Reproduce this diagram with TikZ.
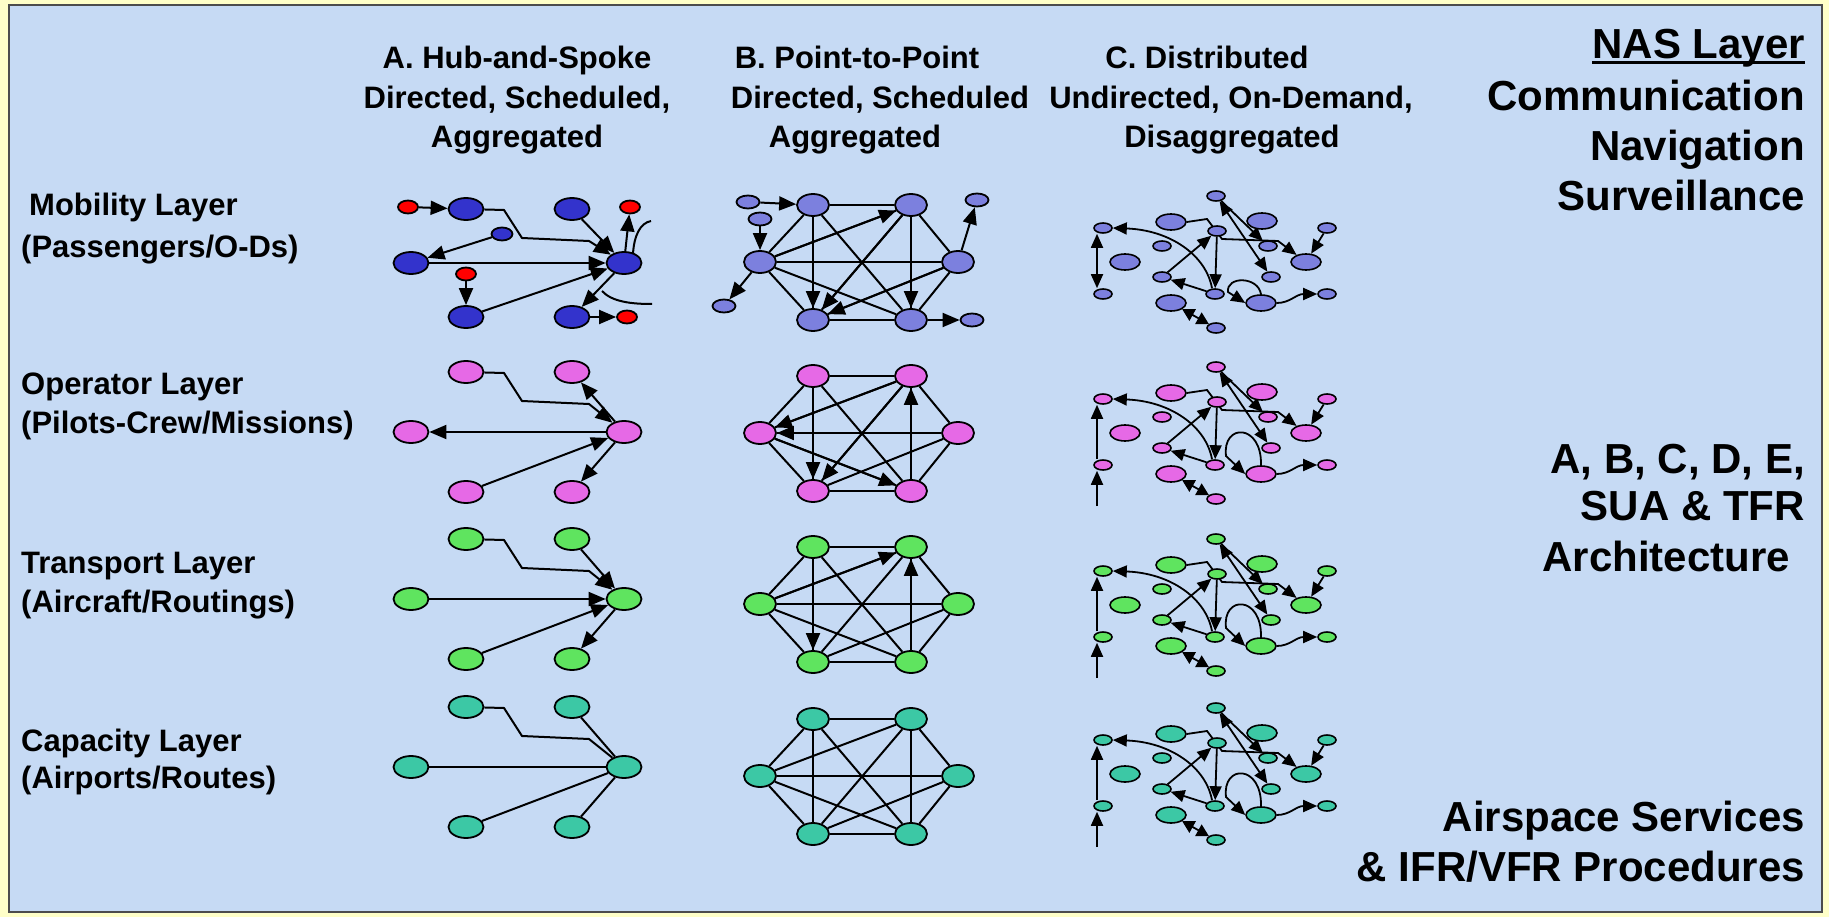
\documentclass[tikz,border=0pt]{standalone}
\usepackage{fontspec}
\setmainfont{Liberation Sans}
\usetikzlibrary{shapes.geometric,arrows.meta}
\pgfdeclarelayer{bglayer}
\pgfdeclarelayer{edgelayer}
\pgfsetlayers{bglayer,edgelayer,main}

\definecolor{bgc}{RGB}{198,218,244}
\definecolor{framec}{RGB}{255,255,200}
\definecolor{mobA}{RGB}{51,51,204}
\definecolor{mobB}{RGB}{124,128,222}
\definecolor{redn}{RGB}{255,0,0}
\definecolor{opc}{RGB}{230,105,230}
\definecolor{trc}{RGB}{95,228,95}
\definecolor{cpc}{RGB}{60,200,165}

\tikzset{
 nd/.style={ellipse, draw=black, line width=1.8pt, inner sep=0pt},
 nA/.style={nd, minimum width=35pt, minimum height=22pt},
 nAs/.style={nd, minimum width=20pt, minimum height=13pt},
 nB/.style={nd, minimum width=32pt, minimum height=22pt},
 nBs/.style={nd, minimum width=23pt, minimum height=13pt},
 nCb/.style={nd, line width=1.6pt, minimum width=30pt, minimum height=16pt},
 nCs/.style={nd, line width=1.6pt, minimum width=18pt, minimum height=10pt},
 edg/.style={line width=2pt, draw=black},
 arrA/.style={edg, -{Triangle[length=17pt,width=14pt]}},
 edc/.style={line width=1.8pt, draw=black},
 arrC/.style={edc, -{Triangle[length=14pt,width=12pt]}},
 barc/.style={edc, {Triangle[length=14pt,width=12pt]}-{Triangle[length=14pt,width=12pt]}},
 hdr/.style={font=\fontsize{31}{37}\selectfont\bfseries, inner sep=0pt, anchor=base},
 lbl/.style={font=\fontsize{31}{37}\selectfont\bfseries, inner sep=0pt, anchor=base west},
 rt/.style={font=\fontsize{42}{50}\selectfont\bfseries, inner sep=0pt, anchor=base east},
}

\newcommand\Anodes[4]{%
 \node[nA,fill=#2] (#1TL) at (466,{#3-#4}) {};
 \node[nA,fill=#2] (#1TR) at (572,{#3-#4}) {};
 \node[nA,fill=#2] (#1L) at (411,#3) {};
 \node[nA,fill=#2] (#1H) at (624,#3) {};
 \node[nA,fill=#2] (#1BL) at (466,{#3+#4}) {};
 \node[nA,fill=#2] (#1BR) at (572,{#3+#4}) {};
}
\newcommand\Apoly[2]{%
 \draw[#2] (#1TL) -- ++(38,1) -- ++(18,28) -- ++(67,3) -- (#1H);
}
\newcommand\Bnodes[3]{%
 \node[nB,fill=#2] (#1TL) at (813,#3) {};
 \node[nB,fill=#2] (#1TR) at (911,#3) {};
 \node[nB,fill=#2] (#1L) at (760,{#3+57}) {};
 \node[nB,fill=#2] (#1R) at (958,{#3+57}) {};
 \node[nB,fill=#2] (#1BL) at (813,{#3+115}) {};
 \node[nB,fill=#2] (#1BR) at (911,{#3+115}) {};
 \begin{pgfonlayer}{edgelayer}
 \foreach \u/\v in {TL/TR,TL/L,TL/BL,TL/BR,TR/L,TR/BL,TR/BR,TR/R,L/R,L/BL,L/BR,R/BL,R/BR,BL/BR}
   \draw[edg] (#1\u) -- (#1\v);
 \end{pgfonlayer}
}
\newcommand\Cgraph[4]{%
 \begin{scope}[shift={(0,#3)}]
 \node[nCs,fill=#2] (#1n1) at (1216,196) {};
 \node[nCb,fill=#2] (#1big1) at (1171,222) {};
 \node[nCb,fill=#2] (#1big2) at (1262,221) {};
 \node[nCs,fill=#2] (#1a) at (1103,228) {};
 \node[nCs,fill=#2] (#1b) at (1217,231) {};
 \node[nCs,fill=#2] (#1c) at (1327,228) {};
 \node[nCs,fill=#2] (#1d) at (1162,246) {};
 \node[nCs,fill=#2] (#1e) at (1268,246) {};
 \node[nCb,fill=#2] (#1big3) at (1125,262) {};
 \node[nCb,fill=#2] (#1big4) at (1306,262) {};
 \node[nCs,fill=#2] (#1f) at (1162,277) {};
 \node[nCs,fill=#2] (#1g) at (1271,277) {};
 \node[nCs,fill=#2] (#1h) at (1103,294) {};
 \node[nCs,fill=#2] (#1i) at (1215,294) {};
 \node[nCs,fill=#2] (#1j) at (1327,294) {};
 \node[nCb,fill=#2] (#1big5) at (1171,303) {};
 \node[nCb,fill=#2] (#1big6) at (1261,303) {};
 \node[nCs,fill=#2] (#1k) at (1216,328) {};
 \begin{pgfonlayer}{edgelayer}
 \draw[arrC] ([xshift=-3pt]#1i.north) .. controls (1206,255) and (1170,230) .. (#1a.east);
 \draw[arrC] (#1big1.east) -- (1207,219) -- (1222,239) -- (1278,241) -- (#1big4);
 \draw[arrC] (#1b) -- (#1i);
 \draw[arrC] (#1f) -- (#1b);
 \draw[arrC] (#1i) -- (#1f);
 \draw[barc] (#1n1) -- (#1g);
 \draw[arrC] (#1n1) -- (#1e);
 \draw[arrC] (#1c) -- (#1big4);
 \draw[arrC] (#1big6.east) .. controls (1290,303) and (1296,294) .. (#1j.west);
 \draw[edc, {Triangle[length=12pt,width=13pt]}-{Triangle[length=12pt,width=13pt]}] (#1big5) -- (#1k);
 #4
 \end{pgfonlayer}
 \end{scope}
}

\begin{document}
\begin{tikzpicture}[x=1pt,y=-1pt]
\useasboundingbox (0,0) rectangle (1829,917);
\begin{pgfonlayer}{bglayer}
\fill[framec] (0,0) rectangle (1829,917);
\fill[bgc] (9,5) rectangle (1822,912);
\draw[line width=1.2pt, black!70] (9,5) rectangle (1822,912);
\end{pgfonlayer}

% headers
\node[hdr] (hA1) at (517,69) {A. Hub-and-Spoke};
\node[hdr] (hA2) at (517,109) {Directed, Scheduled,};
\node[hdr] (hA3) at (517,148) {Aggregated};
\node[hdr] (hB1) at (857,69) {B. Point-to-Point};
\node[hdr] (hB2) at (880,109) {Directed, Scheduled};
\node[hdr] (hB3) at (855,148) {Aggregated};
\node[hdr] (hC1) at (1207,69) {C. Distributed};
\node[hdr] (hC2) at (1231,109) {Undirected, On-Demand,};
\node[hdr] (hC3) at (1232,148) {Disaggregated};

% row labels
\node[lbl] (l1a) at (29,216) {Mobility Layer};
\node[lbl] (l1b) at (21,258) {(Passengers/O-Ds)};
\node[lbl] (l2a) at (21,394) {Operator Layer};
\node[lbl] (l2b) at (21,433) {(Pilots-Crew/Missions)};
\node[lbl] (l3a) at (21,573) {Transport Layer};
\node[lbl] (l3b) at (21,612) {(Aircraft/Routings)};
\node[lbl] (l4a) at (21,751) {Capacity Layer};
\node[lbl] (l4b) at (21,788) {(Airports/Routes)};

% right texts
\node[rt] (r1) at (1805,59) {NAS Layer};
\draw[line width=3pt] ([yshift=-4pt]r1.base west) -- ([yshift=-4pt]r1.base east);
\node[rt] (r2) at (1805,111) {Communication};
\node[rt] (r3) at (1805,161) {Navigation};
\node[rt] (r4) at (1805,211) {Surveillance};
\node[rt] (r5) at (1805,473) {A, B, C, D, E,};
\node[rt] (r6) at (1805,520) {SUA \& TFR};
\node[rt] (r7) at (1790,571) {Architecture};
\node[rt] (r8) at (1805,831) {Airspace Services};
\node[rt] (r9) at (1805,881) {\& IFR/VFR Procedures};

% ===== A graphs =====
\Anodes{mA}{mobA}{263}{54}
\node[nAs,fill=redn] (mAr1) at (408,207) {};
\node[nAs,fill=redn] (mAr2) at (630,207) {};
\node[nAs,fill=redn] (mAr3) at (466,274) {};
\node[nAs,fill=redn] (mAr4) at (627,317) {};
\node[nAs,fill=mobA,minimum width=21pt] (mAsb) at (502,234) {};
\begin{pgfonlayer}{edgelayer}
\draw[arrA] (mAr1) -- (mATL);
\Apoly{mA}{arrA}
\draw[arrA] (mATR) -- (mAH);
\draw[arrA] (mAH) -- (mAr2);
\draw[arrA] (mAsb) -- (mAL);
\draw[arrA] (mAL) -- (mAH);
\draw[arrA] (mAr3) -- (mABL);
\draw[arrA] (mABL) -- (mAH);
\draw[arrA] (mAH) -- (mABR);
\draw[arrA] (mABR) -- (mAr4);
\draw[edg] (633,254) .. controls (634,236) and (640,223) .. (651,221);
\draw[edg] (602,291) .. controls (612,302) and (632,304) .. (652,304);
\end{pgfonlayer}

\Anodes{oA}{opc}{432}{60}
\begin{pgfonlayer}{edgelayer}
\Apoly{oA}{arrA}
\draw[arrA] (oAH) -- (oATR);
\draw[arrA] (oAH) -- (oAL);
\draw[arrA] (oABL) -- (oAH);
\draw[arrA] (oAH) -- (oABR);
\end{pgfonlayer}

\Anodes{tA}{trc}{599}{60}
\begin{pgfonlayer}{edgelayer}
\Apoly{tA}{arrA}
\draw[arrA] (tATR) -- (tAH);
\draw[arrA] (tAL) -- (tAH);
\draw[arrA] (tABL) -- (tAH);
\draw[arrA] (tAH) -- (tABR);
\end{pgfonlayer}

\Anodes{cA}{cpc}{767}{60}
\begin{pgfonlayer}{edgelayer}
\Apoly{cA}{edg}
\draw[edg] (cATR) -- (cAH);
\draw[edg] (cAL) -- (cAH);
\draw[edg] (cABL) -- (cAH);
\draw[edg] (cAH) -- (cABR);
\end{pgfonlayer}

% ===== B graphs =====
\Bnodes{mB}{mobB}{205}
\node[nBs,fill=mobB] (mBs1) at (748,202) {};
\node[nBs,fill=mobB] (mBs2) at (760,219) {};
\node[nBs,fill=mobB] (mBs3) at (724,306) {};
\node[nBs,fill=mobB] (mBs4) at (977,200) {};
\node[nBs,fill=mobB] (mBs5) at (972,320) {};
\begin{pgfonlayer}{edgelayer}
\draw[arrA] (mBs1) -- (mBTL);
\draw[arrA] (mBs2) -- (mBL);
\draw[arrA] (mBL) -- (mBs3);
\draw[arrA] (mBR) -- (mBs4);
\draw[arrA] (mBBR) -- (mBs5);
\draw[arrA] (mBTL) -- (mBBL);
\draw[arrA] (mBL) -- (mBTR);
\draw[arrA] (mBTR) -- (mBBL);
\draw[arrA] (mBTR) -- (mBBR);
\draw[arrA] (mBR) -- (mBBL);
\end{pgfonlayer}

\Bnodes{oB}{opc}{376}
\begin{pgfonlayer}{edgelayer}
\draw[arrA] (oBTR) -- (oBL);
\draw[arrA] (oBR) -- (oBL);
\draw[arrA] (oBTL) -- (oBBL);
\draw[arrA] (oBL) -- (oBBR);
\draw[arrA] (oBBR) -- (oBTR);
\draw[arrA] (oBTR) -- (oBBL);
\end{pgfonlayer}

\Bnodes{tB}{trc}{547}
\begin{pgfonlayer}{edgelayer}
\draw[arrA] (tBL) -- (tBTR);
\draw[arrA] (tBTL) -- (tBBL);
\draw[arrA] (tBBR) -- (tBTR);
\end{pgfonlayer}

\Bnodes{cB}{cpc}{719}

% ===== C graphs =====
\Cgraph{mC}{mobB}{0}{%
 \draw[barc] ([xshift=-6pt]mCa.south) -- ([xshift=-6pt]mCh.north);
 \draw[arrC] (mCbig6.north) .. controls (1258,276) and (1226,276) .. (1228,292) -- (mCbig6.west);
}
\Cgraph{oC}{opc}{171}{%
 \draw[arrC] ([xshift=-6pt]oCh.north) -- ([xshift=-6pt]oCa.south);
 \draw[arrC] (1097,335) -- ([xshift=-6pt]oCh.south);
 \draw[arrC] (oCbig6.north) .. controls (1262,252) and (1222,252) .. (1226,285) -- (oCbig6.west);
}
\Cgraph{tC}{trc}{343}{%
 \draw[arrC] ([xshift=-6pt]tCh.north) -- ([xshift=-6pt]tCa.south);
 \draw[arrC] (1097,335) -- ([xshift=-6pt]tCh.south);
 \draw[arrC] (tCbig6.north) .. controls (1262,252) and (1222,252) .. (1226,285) -- (tCbig6.west);
}
\Cgraph{cC}{cpc}{512}{%
 \draw[arrC] ([xshift=-6pt]cCh.north) -- ([xshift=-6pt]cCa.south);
 \draw[arrC] (1097,335) -- ([xshift=-6pt]cCh.south);
 \draw[arrC] (cCbig6.north) .. controls (1262,252) and (1222,252) .. (1226,285) -- (cCbig6.west);
}
\end{tikzpicture}
\end{document}
